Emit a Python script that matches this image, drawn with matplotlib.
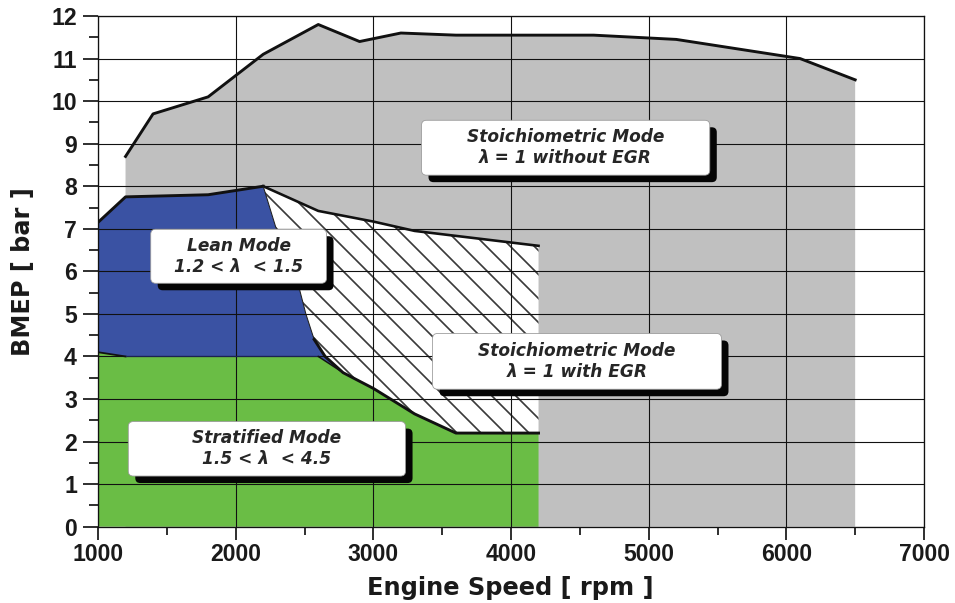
import matplotlib
matplotlib.use("Agg")
import matplotlib.pyplot as plt
from matplotlib.patches import Polygon, FancyBboxPatch
from matplotlib.transforms import ScaledTranslation

# ---------------- data ----------------
full_rpm = [1200, 1400, 1800, 2200, 2600, 2900, 3200, 3600, 4600, 5200, 6100, 6500]
full_bmep = [8.7, 9.7, 10.1, 11.1, 11.8, 11.4, 11.6, 11.55, 11.55, 11.45, 11.0, 10.5]

lean_top_rpm = [1000, 1200, 1800, 2200]
lean_top_bmep = [7.15, 7.75, 7.8, 8.0]

strat_top_rpm = [1000, 1200, 2600, 2780]
strat_top_bmep = [4.1, 4.0, 4.0, 3.62]

egr_edge_rpm = [2200, 2290, 2430, 2510, 2570, 2650, 2780, 3000, 3300, 3600, 4200]
egr_edge_bmep = [8.0, 7.05, 6.0, 5.0, 4.4, 4.0, 3.62, 3.25, 2.65, 2.2, 2.2]

egr_top_rpm = [2200, 2600, 3000, 3300, 4200]
egr_top_bmep = [8.0, 7.42, 7.17, 6.95, 6.6]

x_ticks = [1000, 2000, 3000, 4000, 5000, 6000, 7000]
y_ticks = [0, 1, 2, 3, 4, 5, 6, 7, 8, 9, 10, 11, 12]

mode_labels = [
    "Stoichiometric Mode\nλ = 1 without EGR",
    "Lean Mode\n1.2 < λ  < 1.5",
    "Stoichiometric Mode\nλ = 1 with EGR",
    "Stratified Mode\n1.5 < λ  < 4.5",
]

x_label = "Engine Speed [ rpm ]"
y_label = "BMEP [ bar ]"

# ---------------- styles ----------------
GRAY = "#c0c0c0"
BLUE = "#3a52a3"
GREEN = "#6abd45"

W, H, DPI = 955, 603, 72
PT = 72 / DPI  # pixels -> points
plt.rcParams["hatch.linewidth"] = 1.7 * PT
plt.rcParams["hatch.color"] = "#3a3a3a"

fig = plt.figure(figsize=(W / DPI, H / DPI), dpi=DPI)
ax_l, ax_r, ax_b, ax_t = 98, 924, 526.7, 16
ax = fig.add_axes([ax_l / W, 1 - ax_b / H, (ax_r - ax_l) / W, (ax_b - ax_t) / H])
ax.set_xlim(x_ticks[0], x_ticks[-1])
ax.set_ylim(y_ticks[0], y_ticks[-1])

# gray full-load region
gray_pts = [(full_rpm[0], 0)] + list(zip(full_rpm, full_bmep)) + [(full_rpm[-1], 0)]
ax.add_patch(Polygon(gray_pts, closed=True, fc=GRAY, ec="none", zorder=1))

# index where EGR edge meets green top
k = egr_edge_rpm.index(strat_top_rpm[-1])

# blue lean region
blue_pts = (list(zip(lean_top_rpm, lean_top_bmep))
            + list(zip(egr_edge_rpm[1:k + 1], egr_edge_bmep[1:k + 1]))
            + list(zip(strat_top_rpm[:-1], strat_top_bmep[:-1]))[::-1])
ax.add_patch(Polygon(blue_pts, closed=True, fc=BLUE, ec="none", zorder=1.1))

# green stratified region
green_pts = ([(strat_top_rpm[0], 0)] + list(zip(strat_top_rpm, strat_top_bmep))
             + list(zip(egr_edge_rpm[k + 1:], egr_edge_bmep[k + 1:]))
             + [(egr_edge_rpm[-1], 0)])
ax.add_patch(Polygon(green_pts, closed=True, fc=GREEN, ec="none", zorder=1.1))

# hatched EGR region
hatch_pts = (list(zip(egr_top_rpm, egr_top_bmep))
             + list(zip(egr_edge_rpm, egr_edge_bmep))[::-1][:-1])
ax.add_patch(Polygon(hatch_pts, closed=True, fc="white", ec="#3a3a3a", lw=0,
                     hatch="\\", zorder=1.2))

# grid
ax.set_xticks(x_ticks)
ax.set_yticks(y_ticks)
ax.set_xticks(range(1500, 7000, 1000), minor=True)
ax.set_yticks([y + 0.5 for y in y_ticks[:-1]], minor=True)
ax.grid(True, which="major", color="#111111", lw=1.1 * PT)
ax.set_axisbelow(False)

# boundary lines
LW = 2.9 * PT
ax.plot(full_rpm, full_bmep, color="#111111", lw=LW, zorder=3, solid_joinstyle="round")
ax.plot(lean_top_rpm, lean_top_bmep, color="#111111", lw=LW, zorder=3)
ax.plot(egr_top_rpm, egr_top_bmep, color="#111111", lw=2.6 * PT, zorder=3)
ax.plot(egr_edge_rpm[:5], egr_edge_bmep[:5], color="#1a1a1a", lw=1.0 * PT, zorder=3)
ax.plot(egr_edge_rpm[4:], egr_edge_bmep[4:], color="#111111", lw=LW, zorder=3)
ax.plot(strat_top_rpm[:2], strat_top_bmep[:2], color="#111111", lw=1.8 * PT, zorder=3)
ax.plot(strat_top_rpm[1:3], strat_top_bmep[1:3], color="#1b2350", lw=1.2 * PT, zorder=3)
ax.plot(strat_top_rpm[2:], strat_top_bmep[2:], color="#111111", lw=1.5 * PT, zorder=3)

# spines & ticks
for s in ax.spines.values():
    s.set_color("#111111")
    s.set_linewidth(1.3 * PT)
ax.tick_params(axis="both", which="both", direction="out", width=1.7 * PT, color="#111111")
ax.tick_params(axis="y", which="major", length=15 * PT, pad=6 * PT)
ax.tick_params(axis="y", which="minor", length=9 * PT)
ax.tick_params(axis="x", which="major", length=13 * PT, pad=3 * PT)
ax.tick_params(axis="x", which="minor", length=8 * PT)
for lab in ax.get_xticklabels() + ax.get_yticklabels():
    lab.set_fontfamily("Liberation Sans")
    lab.set_fontweight("bold")
    lab.set_fontsize(23 * PT)
    lab.set_color("#1a1a1a")

# labelled boxes (left, right, bottom, top in data units)
box_geom = [
    (3350, 5444, 8.26, 9.55),
    (1383, 2660, 5.72, 6.99),
    (3430, 5529, 3.23, 4.54),
    (1220, 3234, 1.19, 2.47),
]
rpm_per_px = (x_ticks[-1] - x_ticks[0]) / (ax_r - ax_l)
bar_per_px = (y_ticks[-1] - y_ticks[0]) / (ax_b - ax_t)
m_aspect = bar_per_px / rpm_per_px
shadow_tr = ax.transData + ScaledTranslation(7 / DPI, -7 / DPI, fig.dpi_scale_trans)
for text, (l, r, b, t) in zip(mode_labels, box_geom):
    style = f"round,pad=0,rounding_size={5 * rpm_per_px}"
    sh = FancyBboxPatch((l, b), r - l, t - b, boxstyle=style, mutation_aspect=m_aspect,
                        fc="#050505", ec="none", transform=shadow_tr, zorder=5)
    bx = FancyBboxPatch((l, b), r - l, t - b, boxstyle=style, mutation_aspect=m_aspect,
                        fc="white", ec="#9a9a9a", lw=0.8 * PT, zorder=6)
    ax.add_patch(sh)
    ax.add_patch(bx)
    ax.text((l + r) / 2, (b + t) / 2, text, ha="center", va="center", fontsize=17 * PT,
            family="DejaVu Sans", fontweight="bold", fontstyle="italic",
            color="#262626", zorder=7, linespacing=1.2)

# axis labels
fig.text(510.5 / W, 1 - 595 / H, x_label, ha="center", va="baseline",
         family="DejaVu Sans", fontweight="bold", fontsize=24 * PT, color="#1a1a1a")
fig.text(23 / W, 1 - 271.5 / H, y_label, ha="center", va="center", rotation=90,
         family="DejaVu Sans", fontweight="bold", fontsize=24 * PT, color="#1a1a1a")

fig.savefig("out.png", dpi=DPI, facecolor="white")
